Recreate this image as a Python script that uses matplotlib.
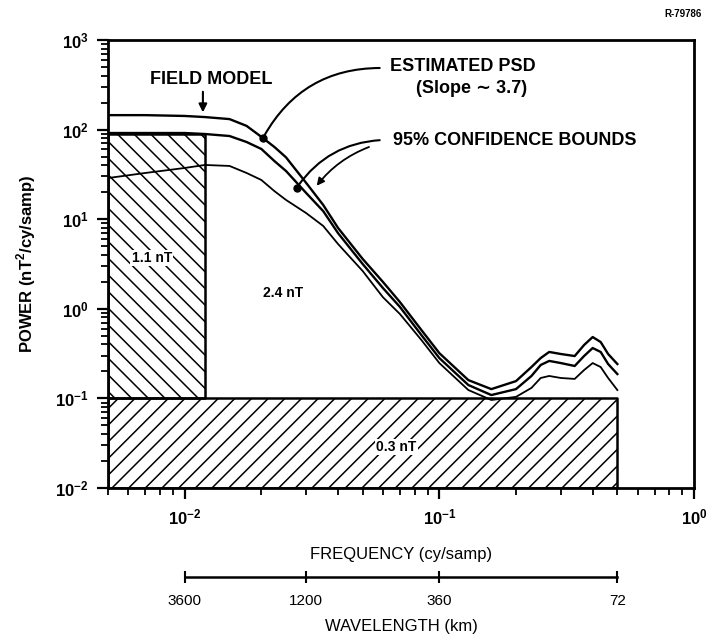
import numpy as np
import matplotlib
matplotlib.use("Agg")
import matplotlib.pyplot as plt
from matplotlib.ticker import LogLocator, FixedLocator, NullFormatter, FuncFormatter

plt.rcParams["font.family"] = ["Liberation Sans", "DejaVu Sans"]
plt.rcParams["mathtext.fontset"] = "custom"
plt.rcParams["mathtext.rm"] = "Liberation Sans"
plt.rcParams["mathtext.bf"] = "Liberation Sans:bold"
plt.rcParams["hatch.linewidth"] = 1.1

# ============================================================
# data
# ============================================================
FREQ = [0.005, 0.007, 0.01, 0.012, 0.015, 0.0175, 0.02, 0.0225, 0.025, 0.03,
        0.035, 0.04, 0.05, 0.06, 0.07, 0.085, 0.1, 0.13, 0.16, 0.2,
        0.23, 0.25, 0.27, 0.3, 0.34, 0.37, 0.4, 0.43, 0.46, 0.5]
PSD_UPPER = [145, 145, 142, 138, 131, 110, 83, 64, 49, 25.4,
             14.4, 8.0, 3.6, 2.0, 1.19, 0.58, 0.32, 0.16, 0.127, 0.156,
             0.224, 0.282, 0.33, 0.313, 0.297, 0.394, 0.484, 0.426, 0.313, 0.242]
PSD_EST = [91.6, 91.6, 91.6, 89.3, 84.8, 72.7, 60.8, 44.6, 34.5, 19.6,
           12.3, 7.0, 3.16, 1.71, 1.05, 0.51, 0.282, 0.141, 0.109, 0.127,
           0.178, 0.236, 0.262, 0.248, 0.230, 0.297, 0.365, 0.330, 0.242, 0.187]
PSD_LOWER = [28.8, 32.8, 37.3, 40.3, 39.3, 32.8, 27.4, 20.6, 16.4, 11.7,
             8.4, 5.29, 2.64, 1.35, 0.875, 0.449, 0.248, 0.124, 0.096, 0.104,
             0.131, 0.169, 0.178, 0.169, 0.165, 0.207, 0.248, 0.224, 0.169, 0.124]

# error budget boxes: frequency range and power range
BOX_F_START = [0.005, 0.005]
BOX_F_END = [0.012, 0.5]
BOX_P_LOW = [0.1, 0.01]
BOX_P_HIGH = [90, 0.1]

SAMPLE_KM = 36.0
WAVELENGTH_TICKS = [3600, 1200, 360, 72]

# ============================================================
# figure
# ============================================================
fig = plt.figure(figsize=(7.14, 6.39), dpi=100)
ax = fig.add_axes([0.1513, 0.2363, 0.8207, 0.7011])
ax.set_xscale("log")
ax.set_yscale("log")
ax.set_xlim(0.005, 1.0)
ax.set_ylim(1e-2, 1e3)

# hatched boxes
ax.fill_between([BOX_F_START[0], BOX_F_END[0]], BOX_P_LOW[0], BOX_P_HIGH[0],
                facecolor="none", edgecolor="black", hatch="\\\\", lw=1.8)
ax.fill_between([BOX_F_START[1], BOX_F_END[1]], BOX_P_LOW[1], BOX_P_HIGH[1],
                facecolor="none", edgecolor="black", hatch="//", lw=1.8)

# PSD + bounds
ax.plot(FREQ, PSD_UPPER, color="black", lw=1.7, solid_joinstyle="round")
ax.plot(FREQ, PSD_EST, color="black", lw=1.7, solid_joinstyle="round")
ax.plot(FREQ, PSD_LOWER, color="black", lw=1.3, solid_joinstyle="round")

# axes styling
for s in ax.spines.values():
    s.set_linewidth(2)


def pow_fmt(v, pos):
    e = int(round(np.log10(v)))
    return r"$\mathbf{10^{%d}}$" % e


ax.xaxis.set_major_locator(LogLocator(base=10, numticks=10))
ax.xaxis.set_minor_locator(LogLocator(base=10, subs=np.arange(2, 10), numticks=10))
ax.yaxis.set_major_locator(LogLocator(base=10, numticks=10))
ax.yaxis.set_minor_locator(LogLocator(base=10, subs=np.arange(2, 10), numticks=10))
ax.xaxis.set_major_formatter(FuncFormatter(pow_fmt))
ax.yaxis.set_major_formatter(FuncFormatter(pow_fmt))
ax.xaxis.set_minor_formatter(NullFormatter())
ax.yaxis.set_minor_formatter(NullFormatter())
ax.tick_params(axis="both", which="major", direction="out", length=8, width=1.6,
               labelsize=12, pad=6)
ax.tick_params(axis="both", which="minor", direction="out", length=5, width=1.3)

ax.set_ylabel(r"POWER (nT$^\mathbf{2}$/cy/samp)", fontsize=12, fontweight="bold",
              labelpad=12)
ax.set_xlabel("FREQUENCY (cy/samp)", fontsize=12, labelpad=14)

# labels inside the boxes
box_txt = dict(fontsize=10, fontweight="bold", ha="center", va="center")
ax.text(0.00744, 3.69, "1.1 nT",
        bbox=dict(facecolor="white", edgecolor="none", pad=1), **box_txt)
ax.text(0.0243, 1.5, "2.4 nT", **box_txt)
ax.text(0.0679, 0.0287, "0.3 nT",
        bbox=dict(facecolor="white", edgecolor="none", pad=1), **box_txt)

# annotations
ax.text(0.01268, 358, "FIELD MODEL", fontsize=13, fontweight="bold",
        ha="center", va="center")
ax.annotate("", xy=(0.01179, 145), xytext=(0.01179, 284),
            arrowprops=dict(arrowstyle="-|>", color="black", lw=1.5,
                            mutation_scale=12))

ax.text(0.0638, 500, "ESTIMATED PSD", fontsize=13, fontweight="bold",
        ha="left", va="center")
ax.text(0.1337, 291, "(Slope \u223c 3.7)", fontsize=13, fontweight="bold",
        ha="center", va="center")
ax.annotate("", xy=(0.0203, 80.6), xytext=(0.0598, 487),
            arrowprops=dict(arrowstyle="-", color="black", lw=1.5,
                            connectionstyle="arc3,rad=0.3"))
ax.plot([0.0203], [80.6], "o", color="black", ms=5)

ax.text(0.0655, 76.5, "95% CONFIDENCE BOUNDS", fontsize=13, fontweight="bold",
        ha="left", va="center")
ax.annotate("", xy=(0.0275, 22.3), xytext=(0.0598, 76.5),
            arrowprops=dict(arrowstyle="-", color="black", lw=1.5,
                            connectionstyle="arc3,rad=0.25"))
ax.plot([0.0275], [22.3], "o", color="black", ms=5)
ax.annotate("", xy=(0.0325, 22.3), xytext=(0.0542, 65.6),
            arrowprops=dict(arrowstyle="-|>", color="black", lw=1.3,
                            mutation_scale=11,
                            connectionstyle="arc3,rad=0.15"))

# wavelength scale below
ax2 = fig.add_axes([0.1513, 0.097, 0.8207, 0.0001])
ax2.set_xscale("log")
ax2.set_xlim(0.005, 1.0)
ax2.set_yticks([])
for side in ["top", "left", "right"]:
    ax2.spines[side].set_visible(False)
wl_freq = SAMPLE_KM / np.array(WAVELENGTH_TICKS, dtype=float)
ax2.spines["bottom"].set_bounds(wl_freq.min(), wl_freq.max())
ax2.spines["bottom"].set_linewidth(1.8)
ax2.xaxis.set_major_locator(FixedLocator(wl_freq))
ax2.xaxis.set_minor_locator(FixedLocator([]))
ax2.set_xticklabels([str(w) for w in WAVELENGTH_TICKS])
ax2.tick_params(axis="x", direction="inout", length=8, width=1.5, labelsize=11,
                pad=8)
ax2.set_xlabel("WAVELENGTH (km)", fontsize=12, labelpad=8)

fig.text(0.983, 0.978, "R-79786", fontsize=7, fontweight="bold",
         ha="right", va="center")

fig.savefig("out.png", dpi=100)
